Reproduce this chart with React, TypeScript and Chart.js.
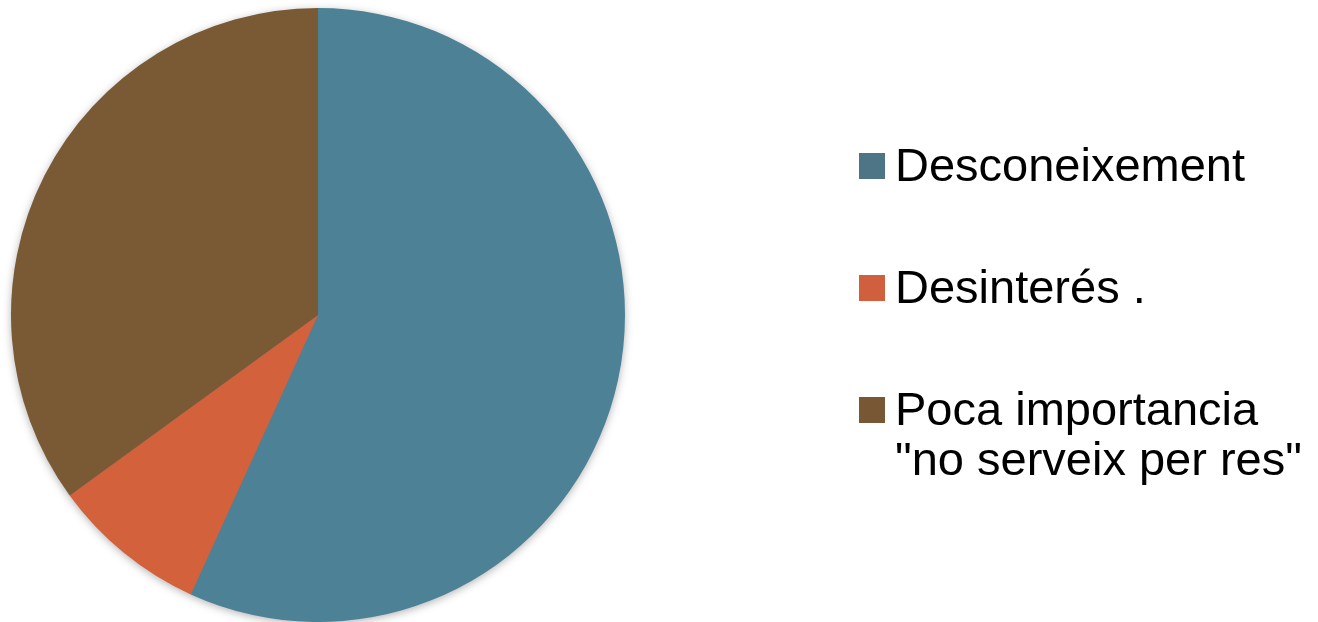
import React, { useEffect, useRef } from "react";
import { Chart, registerables } from "chart.js";

Chart.register(...registerables);

const categories: string[][] = [
  ["Desconeixement"],
  ["Desinterés ."],
  ["Poca importancia", "\"no serveix per res\""],
];
const values: number[] = [56.8, 8.2, 35.0];
const sliceColors: string[] = ["#4c8196", "#d2613c", "#7a5a35"];
const boxColors: string[] = ["#4e7586", "#d0603d", "#775734"];

const shadowPlugin = {
  id: "pieShadow",
  beforeDatasetsDraw(chart: any) {
    const meta = chart.getDatasetMeta(0);
    const arc = meta.data[0];
    if (!arc) return;
    const { x, y, outerRadius } = arc.getProps(["x", "y", "outerRadius"], true);
    const ctx = chart.ctx;
    ctx.save();
    ctx.shadowColor = "rgba(0,0,0,0.35)";
    ctx.shadowBlur = 10;
    ctx.shadowOffsetX = 0;
    ctx.shadowOffsetY = 2;
    ctx.fillStyle = "#777";
    ctx.beginPath();
    ctx.arc(x, y, outerRadius - 1, 0, Math.PI * 2);
    ctx.fill();
    ctx.restore();
  },
};

export default function App() {
  const ref = useRef<HTMLCanvasElement>(null);
  useEffect(() => {
    document.body.style.margin = "0";
    const chart = new Chart(ref.current!, {
      type: "pie",
      data: {
        labels: categories.map((c) => c.join(" ")),
        datasets: [
          {
            data: values,
            backgroundColor: sliceColors,
            borderWidth: 0,
          },
        ],
      },
      options: {
        animation: false,
        responsive: false,
        rotation: 0,
        layout: { padding: { left: 11, top: 8, right: 693, bottom: 0 } },
        plugins: {
          legend: { display: false },
          tooltip: { enabled: false },
        },
      },
      plugins: [shadowPlugin],
    });
    return () => chart.destroy();
  }, []);

  const tops = [140, 262, 384];
  return (
    <div style={{ position: "relative", width: 1318, height: 622, background: "#fff", overflow: "hidden" }}>
      <canvas ref={ref} width={1318} height={622} style={{ position: "absolute", left: 0, top: 0 }} />
      {categories.map((lines, i) => (
        <div
          key={i}
          style={{
            position: "absolute",
            left: 859,
            top: tops[i],
            fontFamily: "'Liberation Sans', Arial, sans-serif",
            fontSize: 47,
            lineHeight: "50px",
            color: "#000",
            whiteSpace: "nowrap",
          }}
        >
          <span
            style={{
              position: "absolute",
              left: 0,
              top: 13,
              width: 26,
              height: 26,
              background: boxColors[i],
            }}
          />
          <div style={{ marginLeft: 36 }}>
            {lines.map((l, j) => (
              <div key={j}>{l}</div>
            ))}
          </div>
        </div>
      ))}
    </div>
  );
}
